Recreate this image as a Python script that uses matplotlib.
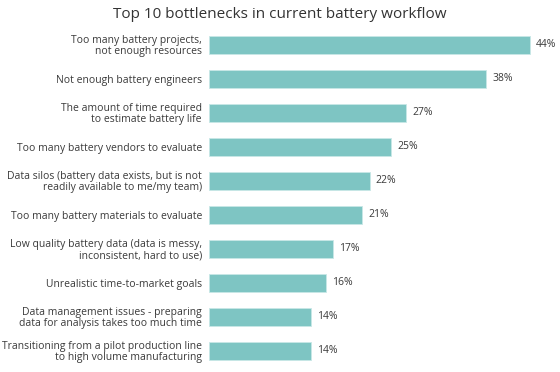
import matplotlib
matplotlib.use("Agg")
import matplotlib.pyplot as plt

plt.rcParams["font.family"] = ["Open Sans", "DejaVu Sans"]

# Data (top to bottom)
categories = [
    "Too many battery projects,\nnot enough resources",
    "Not enough battery engineers",
    "The amount of time required\nto estimate battery life",
    "Too many battery vendors to evaluate",
    "Data silos (battery data exists, but is not\nreadily available to me/my team)",
    "Too many battery materials to evaluate",
    "Low quality battery data (data is messy,\ninconsistent, hard to use)",
    "Unrealistic time-to-market goals",
    "Data management issues - preparing\ndata for analysis takes too much time",
    "Transitioning from a pilot production line\nto high volume manufacturing",
]
values = [44, 38, 27, 25, 22, 21, 17, 16, 14, 14]

BAR_COLOR = "#7ec5c3"
TEXT_COLOR = "#3a3a3a"

fig = plt.figure(figsize=(5.6, 3.72), dpi=100)
ax = fig.add_axes([0.373, 0.011, 0.6, 0.914])

ypos = list(range(len(values)))
ax.barh(ypos, values, height=0.52, color=BAR_COLOR, edgecolor="#c8e8e6", linewidth=0.6)
ax.set_ylim(len(values) - 0.5, -0.5)
ax.set_xlim(0, 46)

for y, v in zip(ypos, values):
    ax.text(v + 0.8, y, f"{v}%", va="center", ha="left", fontsize=7.5, color=TEXT_COLOR)

ax.set_yticks(ypos)
ax.set_yticklabels(categories, fontsize=7.5, color=TEXT_COLOR, linespacing=1.0)
ax.tick_params(axis="y", length=0, pad=5)
ax.set_xticks([])
for s in ax.spines.values():
    s.set_visible(False)

fig.text(0.5, 0.962, "Top 10 bottlenecks in current battery workflow",
         ha="center", va="center", fontsize=11, color="#333333")

fig.savefig("out.png", dpi=100)
